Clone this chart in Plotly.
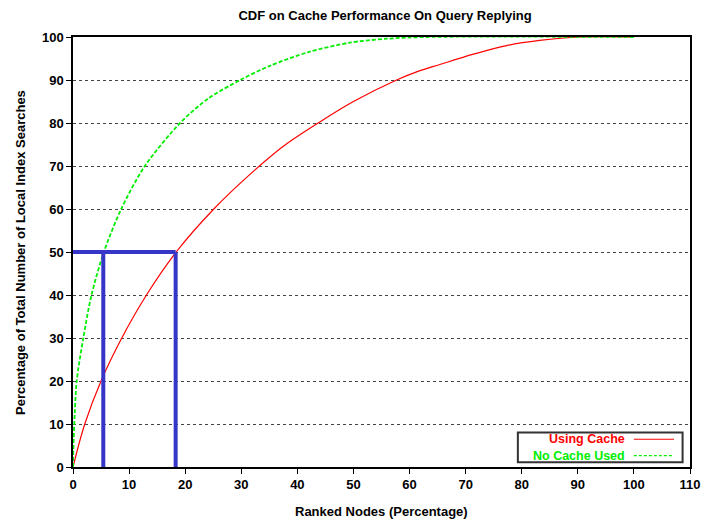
import plotly.graph_objects as go

# Using Cache (red)
cache_x = [0, 2.1, 5.0, 8.7, 13.1, 18.4, 25.1, 31.5, 37.5, 43.7, 50.0, 57.7, 61.5, 65.4, 71.4, 77.3, 83.2, 90.5, 100]
cache_y = [0, 10, 20, 30, 40, 50, 60, 68, 74.6, 80, 85.0, 90, 92.0, 93.6, 96, 98, 99.2, 100, 100]

# No Cache Used (green)
nocache_x = [0, 0.08, 0.23, 0.66, 1.84, 3.3, 5.5, 8.6, 12.8, 19.1, 24.0, 29.8, 35.1, 42.0, 49.4, 56.0, 63.0, 100]
nocache_y = [0, 5, 10, 20, 30, 40, 50, 60, 70, 80, 85.6, 90, 93.3, 96.5, 98.7, 99.6, 100, 100]

# Highlighted 50% marks
mark_level = 50
mark_x = [5.4, 18.3]

x_ticks = list(range(0, 111, 10))
y_ticks = list(range(0, 101, 10))

FONT = "Liberation Sans, Arial, sans-serif"
BLUE = "#3535c8"

fig = go.Figure()

fig.add_trace(go.Scatter(x=cache_x, y=cache_y, mode="lines", name="Using Cache",
                         line=dict(color="#ff0000", width=1.2, shape="spline", smoothing=1.0),
                         showlegend=False))
fig.add_trace(go.Scatter(x=nocache_x, y=nocache_y, mode="lines", name="No Cache Used",
                         line=dict(color="#00ee00", width=1.8, dash="4px,2px", shape="spline", smoothing=0.8),
                         showlegend=False))

# blue marker lines
fig.add_trace(go.Scatter(x=[-0.3, mark_x[1]], y=[mark_level, mark_level], mode="lines",
                         line=dict(color=BLUE, width=4), showlegend=False, cliponaxis=False))
for mx in mark_x:
    fig.add_trace(go.Scatter(x=[mx, mx], y=[0, mark_level], mode="lines",
                             line=dict(color=BLUE, width=4), showlegend=False))

# manual legend (symbol on the right of the text)
lx0, lx1, ly0, ly1 = 0.721, 0.988, 0.011, 0.080
fig.add_shape(type="rect", xref="paper", yref="paper", x0=lx0, x1=lx1, y0=ly0, y1=ly1,
              line=dict(color="#333333", width=2), fillcolor="white", layer="above")
legend_entries = [("Using Cache", "#ff0000", "solid", 0.0645),
                  ("No Cache Used", "#00ee00", "3px,2px", 0.0265)]
for name, col, dash, yy in legend_entries:
    fig.add_annotation(x=0.896, y=yy, xref="paper", yref="paper", text=name, showarrow=False,
                       xanchor="right", yanchor="middle", borderpad=0,
                       font=dict(family=FONT, size=12.5, color=col, weight="bold"))
    fig.add_shape(type="line", xref="paper", yref="paper", x0=0.909, x1=0.974, y0=yy, y1=yy,
                  line=dict(color=col, width=1.2, dash=dash), layer="above")

# axis titles
fig.add_annotation(x=0.5, y=-0.1035, xref="paper", yref="paper", text="Ranked Nodes (Percentage)",
                   showarrow=False, xanchor="center", yanchor="middle",
                   font=dict(family=FONT, size=13, color="black", weight="bold"))
fig.add_annotation(x=-0.0859, y=0.5, xref="paper", yref="paper",
                   text="Percentage of Total Number of Local Index Searches",
                   showarrow=False, xanchor="center", yanchor="middle", textangle=-90,
                   font=dict(family=FONT, size=13, color="black", weight="bold"))

fig.update_layout(
    width=704, height=520,
    margin=dict(l=73, r=14, t=37, b=53),
    paper_bgcolor="white", plot_bgcolor="white",
    font=dict(family=FONT, size=13, color="black"),
    title=dict(text="CDF on Cache Performance On Query Replying", x=0.547, xanchor="center",
               y=0.971, yanchor="middle",
               font=dict(family=FONT, size=13, color="black", weight="bold")),
    showlegend=False,
)

fig.update_xaxes(range=[0, 110], tickvals=x_ticks, ticks="outside", ticklen=5, tickcolor="black",
                 showline=True, linecolor="black", linewidth=1.5, mirror=True,
                 showgrid=False, zeroline=False, automargin=False,
                 tickfont=dict(family=FONT, size=13, color="black", weight="bold"))
fig.update_yaxes(range=[0, 100], tickvals=y_ticks, ticks="outside", ticklen=5, tickcolor="black",
                 showline=True, linecolor="black", linewidth=1.5, mirror=True,
                 showgrid=True, gridcolor="#444444", griddash="dot", gridwidth=1, zeroline=False,
                 automargin=False,
                 tickfont=dict(family=FONT, size=13, color="black", weight="bold"))

fig.write_html("out.html")
